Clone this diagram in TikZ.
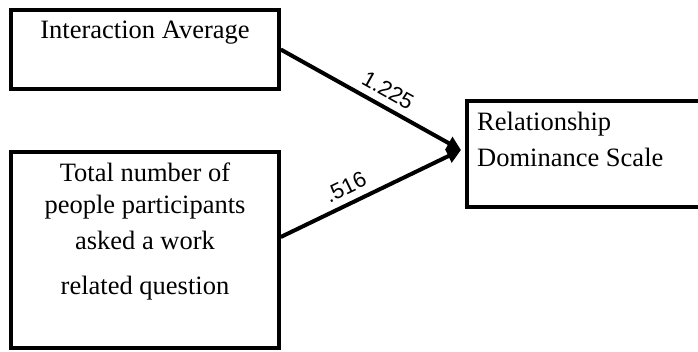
\documentclass[tikz,border=0pt]{standalone}
\usepackage{fontspec}
\setmainfont{Liberation Serif}
\newfontfamily\valfont{Liberation Sans}
\usetikzlibrary{arrows.meta,positioning}

\begin{document}
\begin{tikzpicture}[x=1pt,y=-1pt,
    box/.style={draw, line width=3.5pt, inner sep=0pt},
    conn/.style={line width=4pt, -{Triangle[length=14pt,width=14pt]}},
    txt/.style={font=\fontsize{26.5}{30}\selectfont, inner sep=0pt},
    val/.style={font=\valfont\fontsize{22}{25}\selectfont, sloped, above, inner sep=7pt}]
    \useasboundingbox (0,0) rectangle (698,351);
    % boxes
    \node[box, minimum width=268pt, minimum height=79pt] (ia) at (145,49.5) {};
    \node[box, minimum width=268pt, minimum height=196pt] (tn) at (145,250) {};
    \node[box, minimum width=250pt, minimum height=106pt] (rds) at (592,154) {};
    % texts
    \node[txt] (iatext) at (145,33) {Interaction Average};
    \node[txt] (tn1) at (145,172) {Total number of};
    \node[txt] (tn2) at (145,207) {people participants};
    \node[txt] (tn3) at (145,240) {asked a work};
    \node[txt] (tn4) at (145,288) {related question};
    \node[txt, anchor=west] (rds1) at (477,124) {Relationship};
    \node[txt, anchor=west] (rds2) at (477,157) {Dominance Scale};
    % paths
    \coordinate (tip) at (461,150);
    \draw[conn] (ia.east) -- (tip) node[val, pos=0.55] {1.225};
    \draw[conn] ([yshift=13pt]tn.east) -- (tip) node[val, pos=0.4] {.516};
\end{tikzpicture}
\end{document}
